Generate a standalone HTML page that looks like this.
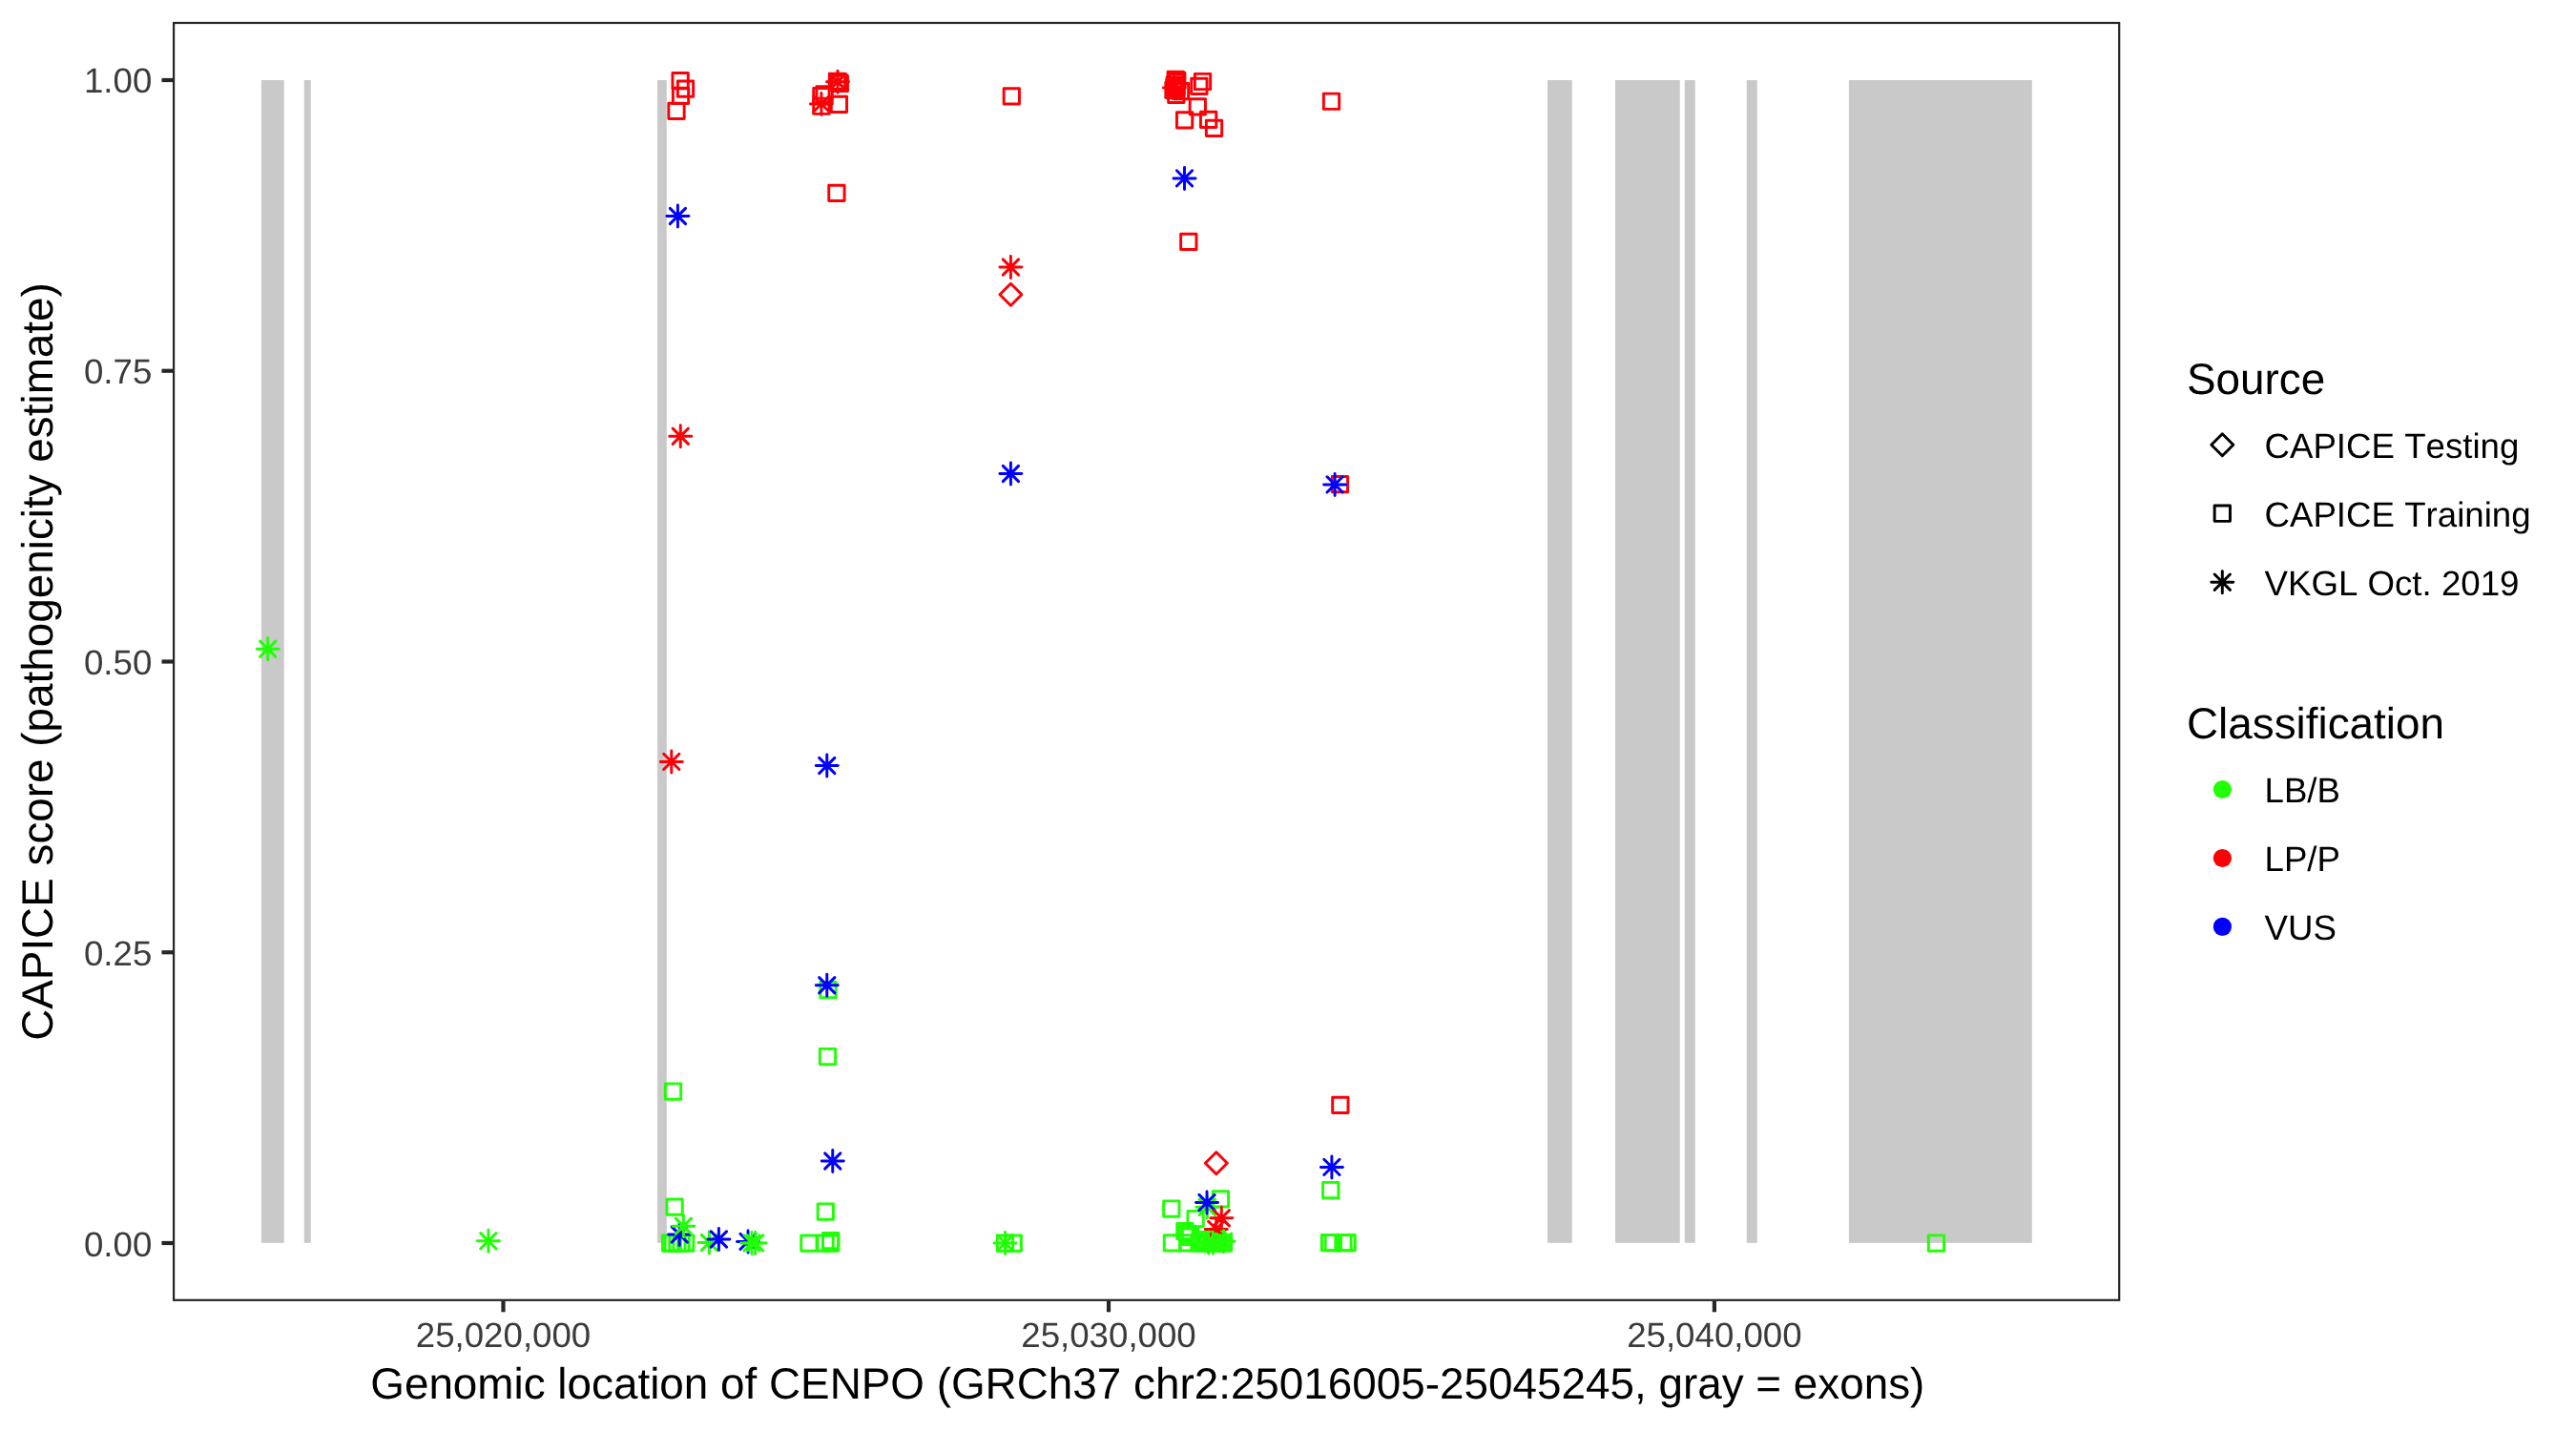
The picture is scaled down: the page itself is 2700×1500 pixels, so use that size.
<!DOCTYPE html>
<html><head><meta charset="utf-8"><title>CENPO CAPICE plot</title>
<style>html,body{margin:0;padding:0;background:#fff}svg{display:block;will-change:transform}text{font-family:"Liberation Sans",sans-serif;font-kerning:none;font-variant-ligatures:none;text-rendering:geometricPrecision}</style></head><body>
<svg width="2700" height="1500" viewBox="0 0 2700 1500">
<rect width="2700" height="1500" fill="#fff"/>
<g fill="#C9C9C9"><rect x="273.9" y="84" width="23.85" height="1218.8"/><rect x="318.75" y="84" width="7.00" height="1218.8"/><rect x="689.1" y="84" width="9.65" height="1218.8"/><rect x="1622" y="84" width="25.75" height="1218.8"/><rect x="1693" y="84" width="67.75" height="1218.8"/><rect x="1765.75" y="84" width="11.00" height="1218.8"/><rect x="1830.75" y="84" width="11.00" height="1218.8"/><rect x="1937.9" y="84" width="191.90" height="1218.8"/></g>
<g fill="none" stroke-width="2.95" stroke-linecap="round" stroke-linejoin="round">
<rect x="704.95" y="76.45" width="16.3" height="16.3" stroke="#FB0007"/>
<rect x="710.35" y="84.95" width="16.3" height="16.3" stroke="#FB0007"/>
<rect x="705.35" y="92.25" width="16.3" height="16.3" stroke="#FB0007"/>
<rect x="700.85" y="108.25" width="16.3" height="16.3" stroke="#FB0007"/>
<rect x="855.95" y="90.60" width="16.3" height="16.3" stroke="#FB0007"/>
<rect x="852.75" y="92.45" width="16.3" height="16.3" stroke="#FB0007"/>
<rect x="852.75" y="103.10" width="16.3" height="16.3" stroke="#FB0007"/>
<rect x="869.35" y="77.15" width="16.3" height="16.3" stroke="#FB0007"/>
<rect x="872.15" y="79.35" width="16.3" height="16.3" stroke="#FB0007"/>
<rect x="870.85" y="78.05" width="16.3" height="16.3" stroke="#FB0007"/>
<rect x="871.25" y="101.25" width="16.3" height="16.3" stroke="#FB0007"/>
<rect x="868.75" y="194.15" width="16.3" height="16.3" stroke="#FB0007"/>
<rect x="1052.15" y="92.75" width="16.3" height="16.3" stroke="#FB0007"/>
<path d="M1047.90 308.75L1059.40 320.25L1070.90 308.75L1059.40 297.25Z" stroke="#FB0007"/>
<rect x="1252.35" y="77.35" width="16.3" height="16.3" stroke="#FB0007"/>
<rect x="1248.75" y="82.15" width="16.3" height="16.3" stroke="#FB0007"/>
<rect x="1247.15" y="103.75" width="16.3" height="16.3" stroke="#FB0007"/>
<rect x="1233.45" y="117.75" width="16.3" height="16.3" stroke="#FB0007"/>
<rect x="1258.45" y="117.15" width="16.3" height="16.3" stroke="#FB0007"/>
<rect x="1264.35" y="126.25" width="16.3" height="16.3" stroke="#FB0007"/>
<rect x="1229.35" y="87.45" width="16.3" height="16.3" stroke="#FB0007"/>
<rect x="1224.65" y="91.25" width="16.3" height="16.3" stroke="#FB0007"/>
<rect x="1224.05" y="75.25" width="16.3" height="16.3" stroke="#FB0007"/>
<rect x="1225.60" y="76.25" width="16.3" height="16.3" stroke="#FB0007"/>
<rect x="1224.35" y="78.10" width="16.3" height="16.3" stroke="#FB0007"/>
<rect x="1223.10" y="80.95" width="16.3" height="16.3" stroke="#FB0007"/>
<rect x="1224.95" y="83.10" width="16.3" height="16.3" stroke="#FB0007"/>
<rect x="1221.85" y="86.25" width="16.3" height="16.3" stroke="#FB0007"/>
<rect x="1223.75" y="84.95" width="16.3" height="16.3" stroke="#FB0007"/>
<rect x="1237.65" y="245.25" width="16.3" height="16.3" stroke="#FB0007"/>
<rect x="1387.35" y="98.10" width="16.3" height="16.3" stroke="#FB0007"/>
<rect x="1396.25" y="499.45" width="16.3" height="16.3" stroke="#FB0007"/>
<rect x="1396.70" y="1150.25" width="16.3" height="16.3" stroke="#FB0007"/>
<path d="M1263.30 1219.20L1274.80 1230.70L1286.30 1219.20L1274.80 1207.70Z" stroke="#FB0007"/>
<rect x="697.35" y="1135.85" width="16.3" height="16.3" stroke="#21FF06"/>
<rect x="698.95" y="1256.95" width="16.3" height="16.3" stroke="#21FF06"/>
<rect x="694.45" y="1294.85" width="16.3" height="16.3" stroke="#21FF06"/>
<rect x="697.05" y="1294.85" width="16.3" height="16.3" stroke="#21FF06"/>
<rect x="701.75" y="1294.85" width="16.3" height="16.3" stroke="#21FF06"/>
<rect x="705.95" y="1294.85" width="16.3" height="16.3" stroke="#21FF06"/>
<rect x="710.55" y="1294.85" width="16.3" height="16.3" stroke="#21FF06"/>
<rect x="859.85" y="1029.35" width="16.3" height="16.3" stroke="#21FF06"/>
<rect x="859.35" y="1099.35" width="16.3" height="16.3" stroke="#21FF06"/>
<rect x="857.15" y="1261.85" width="16.3" height="16.3" stroke="#21FF06"/>
<rect x="839.75" y="1294.95" width="16.3" height="16.3" stroke="#21FF06"/>
<rect x="856.85" y="1294.95" width="16.3" height="16.3" stroke="#21FF06"/>
<rect x="862.45" y="1292.45" width="16.3" height="16.3" stroke="#21FF06"/>
<rect x="862.45" y="1294.95" width="16.3" height="16.3" stroke="#21FF06"/>
<rect x="1045.35" y="1294.95" width="16.3" height="16.3" stroke="#21FF06"/>
<rect x="1054.10" y="1294.95" width="16.3" height="16.3" stroke="#21FF06"/>
<rect x="1219.65" y="1258.85" width="16.3" height="16.3" stroke="#21FF06"/>
<rect x="1271.25" y="1248.75" width="16.3" height="16.3" stroke="#21FF06"/>
<rect x="1244.95" y="1269.35" width="16.3" height="16.3" stroke="#21FF06"/>
<rect x="1220.25" y="1294.65" width="16.3" height="16.3" stroke="#21FF06"/>
<rect x="1233.75" y="1282.45" width="16.3" height="16.3" stroke="#21FF06"/>
<rect x="1236.45" y="1285.25" width="16.3" height="16.3" stroke="#21FF06"/>
<rect x="1239.35" y="1288.10" width="16.3" height="16.3" stroke="#21FF06"/>
<rect x="1237.35" y="1294.65" width="16.3" height="16.3" stroke="#21FF06"/>
<rect x="1248.85" y="1294.65" width="16.3" height="16.3" stroke="#21FF06"/>
<rect x="1251.85" y="1294.65" width="16.3" height="16.3" stroke="#21FF06"/>
<rect x="1254.85" y="1294.65" width="16.3" height="16.3" stroke="#21FF06"/>
<rect x="1257.85" y="1294.65" width="16.3" height="16.3" stroke="#21FF06"/>
<rect x="1260.85" y="1294.65" width="16.3" height="16.3" stroke="#21FF06"/>
<rect x="1263.85" y="1294.65" width="16.3" height="16.3" stroke="#21FF06"/>
<rect x="1266.85" y="1294.65" width="16.3" height="16.3" stroke="#21FF06"/>
<rect x="1269.85" y="1294.65" width="16.3" height="16.3" stroke="#21FF06"/>
<rect x="1272.85" y="1294.65" width="16.3" height="16.3" stroke="#21FF06"/>
<rect x="1274.35" y="1294.65" width="16.3" height="16.3" stroke="#21FF06"/>
<rect x="1250.35" y="1291.45" width="16.3" height="16.3" stroke="#21FF06"/>
<rect x="1255.85" y="1291.45" width="16.3" height="16.3" stroke="#21FF06"/>
<rect x="1261.85" y="1291.45" width="16.3" height="16.3" stroke="#21FF06"/>
<rect x="1267.85" y="1291.45" width="16.3" height="16.3" stroke="#21FF06"/>
<rect x="1386.60" y="1239.35" width="16.3" height="16.3" stroke="#21FF06"/>
<rect x="1385.35" y="1294.45" width="16.3" height="16.3" stroke="#21FF06"/>
<rect x="1389.20" y="1294.45" width="16.3" height="16.3" stroke="#21FF06"/>
<rect x="1399.85" y="1294.45" width="16.3" height="16.3" stroke="#21FF06"/>
<rect x="1403.95" y="1294.45" width="16.3" height="16.3" stroke="#21FF06"/>
<rect x="2021.35" y="1294.85" width="16.3" height="16.3" stroke="#21FF06"/>
<path d="M269.25 680.25H292.25M280.75 668.75V691.75M272.61 672.11L288.89 688.39M272.61 688.39L288.89 672.11" stroke="#21FF06"/>
<path d="M500.40 1300.75H523.40M511.90 1289.25V1312.25M503.76 1292.61L520.04 1308.89M503.76 1308.89L520.04 1292.61" stroke="#21FF06"/>
<path d="M698.90 226.50H721.90M710.40 215.00V238.00M702.26 218.36L718.54 234.64M702.26 234.64L718.54 218.36" stroke="#0000FF"/>
<path d="M701.75 457.25H724.75M713.25 445.75V468.75M705.11 449.11L721.39 465.39M705.11 465.39L721.39 449.11" stroke="#FB0007"/>
<path d="M692.30 798.40H715.30M703.80 786.90V809.90M695.66 790.26L711.94 806.54M695.66 806.54L711.94 790.26" stroke="#FB0007"/>
<path d="M849.40 108.90H872.40M860.90 97.40V120.40M852.76 100.76L869.04 117.04M852.76 117.04L869.04 100.76" stroke="#FB0007"/>
<path d="M866.50 85.75H889.50M878.00 74.25V97.25M869.86 77.61L886.14 93.89M869.86 93.89L886.14 77.61" stroke="#FB0007"/>
<path d="M855.25 802.50H878.25M866.75 791.00V814.00M858.61 794.36L874.89 810.64M858.61 810.64L874.89 794.36" stroke="#0000FF"/>
<path d="M855.25 1032.75H878.25M866.75 1021.25V1044.25M858.61 1024.61L874.89 1040.89M858.61 1040.89L874.89 1024.61" stroke="#0000FF"/>
<path d="M861.25 1217.00H884.25M872.75 1205.50V1228.50M864.61 1208.86L880.89 1225.14M864.61 1225.14L880.89 1208.86" stroke="#0000FF"/>
<path d="M1047.90 280.00H1070.90M1059.40 268.50V291.50M1051.26 271.86L1067.54 288.14M1051.26 288.14L1067.54 271.86" stroke="#FB0007"/>
<path d="M1047.90 496.50H1070.90M1059.40 485.00V508.00M1051.26 488.36L1067.54 504.64M1051.26 504.64L1067.54 488.36" stroke="#0000FF"/>
<path d="M1219.30 91.90H1242.30M1230.80 80.40V103.40M1222.66 83.76L1238.94 100.04M1222.66 100.04L1238.94 83.76" stroke="#FB0007"/>
<path d="M1230.00 186.90H1253.00M1241.50 175.40V198.40M1233.36 178.76L1249.64 195.04M1233.36 195.04L1249.64 178.76" stroke="#0000FF"/>
<path d="M1387.60 507.90H1410.60M1399.10 496.40V519.40M1390.96 499.76L1407.24 516.04M1390.96 516.04L1407.24 499.76" stroke="#0000FF"/>
<path d="M1384.40 1223.40H1407.40M1395.90 1211.90V1234.90M1387.76 1215.26L1404.04 1231.54M1387.76 1231.54L1404.04 1215.26" stroke="#0000FF"/>
<path d="M700.70 1294.00H723.70M712.20 1282.50V1305.50M704.06 1285.86L720.34 1302.14M704.06 1302.14L720.34 1285.86" stroke="#0000FF"/>
<path d="M704.90 1285.25H727.90M716.40 1273.75V1296.75M708.26 1277.11L724.54 1293.39M708.26 1293.39L724.54 1277.11" stroke="#21FF06"/>
<path d="M731.90 1302.50H754.90M743.40 1291.00V1314.00M735.26 1294.36L751.54 1310.64M735.26 1310.64L751.54 1294.36" stroke="#21FF06"/>
<path d="M741.90 1299.00H764.90M753.40 1287.50V1310.50M745.26 1290.86L761.54 1307.14M745.26 1307.14L761.54 1290.86" stroke="#0000FF"/>
<path d="M772.54 1301.40H795.54M784.04 1289.90V1312.90M775.90 1293.26L792.18 1309.54M775.90 1309.54L792.18 1293.26" stroke="#0000FF"/>
<path d="M776.54 1302.90H799.54M788.04 1291.40V1314.40M779.90 1294.76L796.18 1311.04M779.90 1311.04L796.18 1294.76" stroke="#21FF06"/>
<path d="M780.23 1302.90H803.23M791.73 1291.40V1314.40M783.59 1294.76L799.87 1311.04M783.59 1311.04L799.87 1294.76" stroke="#21FF06"/>
<path d="M1042.00 1302.90H1065.00M1053.50 1291.40V1314.40M1045.36 1294.76L1061.64 1311.04M1045.36 1311.04L1061.64 1294.76" stroke="#21FF06"/>
<path d="M1253.80 1265.30H1276.80M1265.30 1253.80V1276.80M1257.16 1257.16L1273.44 1273.44M1257.16 1273.44L1273.44 1257.16" stroke="#21FF06"/>
<path d="M1253.50 1260.50H1276.50M1265.00 1249.00V1272.00M1256.86 1252.36L1273.14 1268.64M1256.86 1268.64L1273.14 1252.36" stroke="#0000FF"/>
<path d="M1263.20 1288.40H1286.20M1274.70 1276.90V1299.90M1266.56 1280.26L1282.84 1296.54M1266.56 1296.54L1282.84 1280.26" stroke="#FB0007"/>
<path d="M1268.80 1276.75H1291.80M1280.30 1265.25V1288.25M1272.16 1268.61L1288.44 1284.89M1272.16 1284.89L1288.44 1268.61" stroke="#FB0007"/>
<path d="M1255.10 1302.80H1278.10M1266.60 1291.30V1314.30M1258.46 1294.66L1274.74 1310.94M1258.46 1310.94L1274.74 1294.66" stroke="#21FF06"/>
<path d="M1259.75 1302.80H1282.75M1271.25 1291.30V1314.30M1263.11 1294.66L1279.39 1310.94M1263.11 1310.94L1279.39 1294.66" stroke="#21FF06"/>
<path d="M1271.00 1301.25H1294.00M1282.50 1289.75V1312.75M1274.36 1293.11L1290.64 1309.39M1274.36 1309.39L1290.64 1293.11" stroke="#21FF06"/>
</g>
<rect x="182.1" y="24" width="2039.1" height="1338.8" fill="none" stroke="#242424" stroke-width="2.2"/>
<g stroke="#262626" stroke-width="4.2">
<path d="M169.5 84H181"/>
<path d="M169.5 388.75H181"/>
<path d="M169.5 693.5H181"/>
<path d="M169.5 998.25H181"/>
<path d="M169.5 1303H181"/>
<path d="M527.5 1363.9V1375.3"/>
<path d="M1162 1363.9V1375.3"/>
<path d="M1796.9 1363.9V1375.3"/>
</g>
<g font-size="36.67px" fill="#3B3B3B">
<text x="159.3" y="96.8" text-anchor="end">1.00</text>
<text x="159.3" y="401.8" text-anchor="end">0.75</text>
<text x="159.3" y="706.8" text-anchor="end">0.50</text>
<text x="159.3" y="1011.8" text-anchor="end">0.25</text>
<text x="159.3" y="1316.8" text-anchor="end">0.00</text>
<text x="527.5" y="1411.8" text-anchor="middle">25,020,000</text>
<text x="1162" y="1411.8" text-anchor="middle">25,030,000</text>
<text x="1796.9" y="1411.8" text-anchor="middle">25,040,000</text>
</g>
<g font-size="45.83px" fill="#000">
<text x="1202.8" y="1465.8" text-anchor="middle">Genomic location of CENPO (GRCh37 chr2:25016005-25045245, gray = exons)</text>
<text transform="translate(55.2 693.5) rotate(-90)" text-anchor="middle">CAPICE score (pathogenicity estimate)</text>
<text x="2292" y="412.8">Source</text>
<text x="2292" y="773.8">Classification</text>
</g>
<g font-size="36.67px" fill="#000">
<text x="2373.5" y="479.8">CAPICE Testing</text>
<text x="2373.5" y="551.8">CAPICE Training</text>
<text x="2373.5" y="623.8">VKGL Oct. 2019</text>
<text x="2373.5" y="840.8">LB/B</text>
<text x="2373.5" y="912.8">LP/P</text>
<text x="2373.5" y="984.8">VUS</text>
</g>
<g fill="none" stroke-width="2.95" stroke-linecap="round" stroke-linejoin="round">
<path d="M2317.80 466.20L2329.30 477.70L2340.80 466.20L2329.30 454.70Z" stroke="#000"/>
<rect x="2321.15" y="530.05" width="16.3" height="16.3" stroke="#000"/>
<path d="M2317.80 610.20H2340.80M2329.30 598.70V621.70M2321.16 602.06L2337.44 618.34M2321.16 618.34L2337.44 602.06" stroke="#000"/>
</g>
<circle cx="2329.4" cy="827.5" r="9.6" fill="#21FF06" stroke="none"/>
<circle cx="2329.4" cy="899.5" r="9.6" fill="#FB0007" stroke="none"/>
<circle cx="2329.4" cy="971.4" r="9.6" fill="#0000FF" stroke="none"/>
</svg></body></html>
